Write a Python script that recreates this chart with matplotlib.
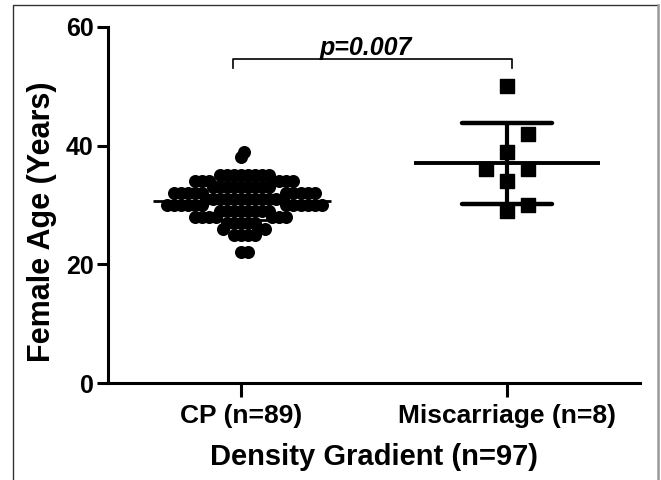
import numpy as np
import matplotlib.pyplot as plt
from matplotlib.lines import Line2D

# CP group: age value -> number of patients at that age
cp_ages = [22, 25, 26, 27, 28, 29, 30, 31, 32, 33, 34, 35, 38, 39]
cp_counts = [2, 4, 3, 5, 7, 8, 12, 12, 10, 9, 7, 8, 1, 1]

# Miscarriage group (square markers), with small horizontal offsets
mc_ages = [50, 42, 39, 36, 36, 34, 30, 29]
mc_side = [0, 1, 0, -1, 1, 0, 1, 0]

categories = ['CP (n=89)', 'Miscarriage (n=8)']
p_text = 'p=0.007'


def swarm(vals, d, sx, sy):
    # simple beeswarm: put each point as near the centre as it can go
    placed = []
    out = []
    for v in vals:
        cands = [0.0]
        for (px, py) in placed:
            dy = (v - py) * sy
            if abs(dy) < d:
                dx = np.sqrt(d * d - dy * dy) / sx
                cands += [px + dx, px - dx]
        cands.sort(key=abs)
        for c in cands:
            ok = True
            for (px, py) in placed:
                if ((c - px) * sx) ** 2 + ((v - py) * sy) ** 2 < d * d - 1e-6:
                    ok = False
                    break
            if ok:
                break
        placed.append((c, v))
        out.append(c)
    return np.array(out)


def main():
    plt.rcParams['font.family'] = ['Liberation Sans', 'DejaVu Sans']
    plt.rcParams['font.weight'] = 'bold'

    fig = plt.figure(figsize=(6.61, 4.8), dpi=100)
    ax = fig.add_axes([0.163, 0.202, 0.805, 0.742])

    cp_vals = np.repeat(cp_ages, cp_counts)
    order = np.argsort(np.abs(cp_vals - np.median(cp_vals)), kind='stable')
    vals = cp_vals[order]
    offs = swarm(vals, 7.0, 266.0, 5.93)
    ax.scatter(offs, vals, s=88, color='black', marker='o', zorder=3,
               linewidths=0)

    m, sd = cp_vals.mean(), cp_vals.std(ddof=1)
    ax.hlines(m, -0.33, 0.34, color='black', lw=2.0, zorder=4)
    ax.hlines([m - sd, m + sd], -0.17, 0.17, color='black', lw=2.0, zorder=4)
    ax.vlines(0, m - sd, m + sd, color='black', lw=1.5, zorder=4)

    # Miscarriage scatter
    mx = 1 + np.array(mc_side) * 0.08
    ax.scatter(mx, mc_ages, s=115, color='black', marker='s', zorder=3)
    mc_vals = np.array(mc_ages)
    m2, sd2 = mc_vals.mean(), mc_vals.std(ddof=1)
    ax.hlines(m2, 0.65, 1.35, color='black', lw=2.8, zorder=4)
    ax.hlines([m2 - sd2, m2 + sd2], 0.83, 1.17, color='black', lw=3.2,
              capstyle='round', zorder=4)
    ax.vlines(1, m2 - sd2, m2 + sd2, color='black', lw=3, zorder=4)

    # significance bracket
    ax.plot([-0.03, -0.03, 1.02, 1.02], [53, 54.6, 54.6, 53], color='black',
            lw=1.2, clip_on=False)
    ax.text(0.47, 54.5, p_text, ha='center', va='bottom', fontsize=18,
            fontweight='bold', fontstyle='italic')

    ax.set_xlim(-0.5, 1.5)
    ax.set_ylim(0, 60)
    ax.set_yticks([0, 20, 40, 60])
    ax.set_xticks([0, 1])
    ax.set_xticklabels(categories, fontsize=19, fontweight='bold')
    for lab in ax.get_yticklabels():
        lab.set_fontsize(18)
        lab.set_fontweight('bold')
    ax.tick_params(axis='y', length=8, width=2.2, pad=2)
    ax.tick_params(axis='x', length=10, width=2.2, pad=5)
    for side in ['top', 'right']:
        ax.spines[side].set_visible(False)
    for side in ['left', 'bottom']:
        ax.spines[side].set_linewidth(2.2)
    ax.set_ylabel('Female Age (Years)', fontsize=22, fontweight='bold')
    ax.yaxis.set_label_coords(-0.096, 0.452)
    ax.set_xlabel('Density Gradient (n=97)', fontsize=21, fontweight='bold',
                  labelpad=11)

    # frame around figure: dark left/top, lighter right edge
    fig.add_artist(Line2D([13 / 661, 13 / 661, 658 / 661],
                          [-0.01, 1 - 5 / 480, 1 - 5 / 480],
                          color='#333333', lw=1.0, transform=fig.transFigure))
    fig.add_artist(Line2D([658 / 661, 658 / 661], [-0.01, 1 - 5 / 480],
                          color='#999999', lw=1.8, transform=fig.transFigure))

    fig.savefig('out.png', dpi=100)


if (__name__ == "__main__"):
    main()
